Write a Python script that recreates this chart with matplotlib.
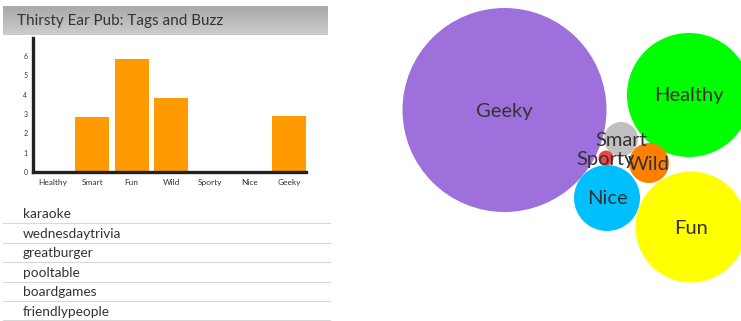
import matplotlib.pyplot as plt
import numpy as np
from matplotlib.patches import Circle

plt.rcParams['font.family'] = ['Lato', 'DejaVu Sans']

# -----------------------
# Data
# -----------------------
title = "Thirsty Ear Pub: Tags and Buzz"

tags = ["Healthy", "Smart", "Fun", "Wild", "Sporty", "Nice", "Geeky"]
tag_scores = [0, 2.85, 5.85, 3.85, 0, 0, 2.9]
y_ticks = [0, 1, 2, 3, 4, 5, 6]

buzz = ["karaoke", "wednesdaytrivia", "greatburger",
        "pooltable", "boardgames", "friendlypeople"]

bubble_names = ["Geeky", "Healthy", "Fun", "Nice", "Wild", "Smart", "Sporty"]
bubble_x = [504.5, 689, 691, 607, 649, 621, 606]
bubble_y = [110, 95, 227, 198, 163, 139, 158]
bubble_r = [102, 62, 55.5, 33, 20, 17, 7.5]
bubble_colors = ["#9e70dc", "#00ff00", "#ffff00", "#00bfff",
                 "#ff8000", "#c0c0c0", "#ee4444"]

W, H = 741, 321
fig = plt.figure(figsize=(W / 100, H / 100), dpi=100)

# -----------------------
# Background: header and buzz list (pixel coords)
# -----------------------
bg = fig.add_axes([0, 0, 1, 1])
bg.set_xlim(0, W)
bg.set_ylim(H, 0)
bg.axis("off")

grad = np.linspace(0, 1, 50).reshape(-1, 1)
bg.imshow(grad, cmap=plt.matplotlib.colors.LinearSegmentedColormap.from_list(
    "hdr", ["#a9a9a9", "#cdcdcd"]), extent=[3, 328, 35, 6], aspect="auto", zorder=0)
bg.text(17, 21, title, fontsize=11, color="#333333", va="center", ha="left")

row_top = 205
row_h = 19.4
for i, item in enumerate(buzz):
    yc = row_top + i * row_h + 9.5
    bg.text(23, yc, item, fontsize=9.8, color="#333333", va="center", ha="left")
    bg.plot([3, 330], [row_top + (i + 1) * row_h - 1] * 2, color="#d8d8d8", lw=0.8)

# -----------------------
# Bar chart
# -----------------------
ax = fig.add_axes([33 / W, 1 - 172 / H, (306 - 33) / W, (172 - 38) / H])
x = np.arange(len(tags))
ax.bar(x, tag_scores, width=0.86, color="#ff9a00")
ax.set_xlim(-0.51, 6.43)
ax.set_ylim(0, 6.94)
ax.set_xticks(x)
ax.set_xticklabels(tags, fontsize=6, color="#333333")
ax.set_yticks(y_ticks)
ax.set_yticklabels([str(v) for v in y_ticks], fontsize=5, color="#333333")
ax.tick_params(length=0, pad=4)
ax.tick_params(axis="x", pad=5)
for s in ["top", "right"]:
    ax.spines[s].set_visible(False)
for s in ["left", "bottom"]:
    ax.spines[s].set_linewidth(2.4)
    ax.spines[s].set_color("#222222")
ax.patch.set_alpha(0)

# -----------------------
# Bubble chart
# -----------------------
bx = fig.add_axes([390 / W, 0, (W - 390) / W, 1])
bx.set_xlim(390, W)
bx.set_ylim(H, 0)
bx.axis("off")
for name, cx, cy, r, c in zip(bubble_names, bubble_x, bubble_y, bubble_r, bubble_colors):
    bx.add_patch(Circle((cx, cy), r, color=c, lw=0))
for name, cx, cy in zip(bubble_names, bubble_x, bubble_y):
    bx.text(cx, cy + 1, name, fontsize=14.5, color="#333333", ha="center", va="center")

fig.savefig("out.png", dpi=100)
